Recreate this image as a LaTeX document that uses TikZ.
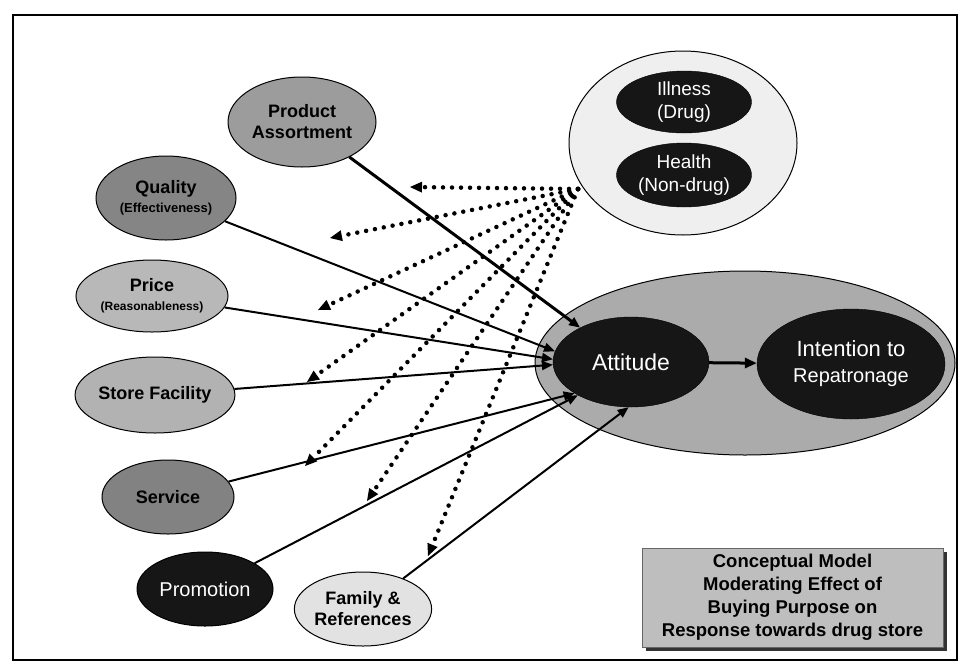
\documentclass[tikz,border=0pt]{standalone}
\usepackage{fontspec}
\setmainfont{Liberation Sans}
\usetikzlibrary{shapes.geometric,arrows.meta}
\definecolor{gA}{HTML}{9C9C9C}
\definecolor{gB}{HTML}{858585}
\definecolor{gC}{HTML}{B8B8B8}
\definecolor{gD}{HTML}{B2B2B2}
\definecolor{gE}{HTML}{828282}
\definecolor{gF}{HTML}{161616}
\definecolor{gG}{HTML}{E2E2E2}
\definecolor{gH}{HTML}{EFEFEF}
\definecolor{gI}{HTML}{ABABAB}
\definecolor{gJ}{HTML}{BEBEBE}
\tikzset{
  oval/.style={ellipse, draw=black, line width=1pt, inner sep=0pt, align=center, font=\bfseries\fontsize{18}{21}\selectfont},
  darkoval/.style={ellipse, draw=black, fill=gF, inner sep=0pt, align=center, text=white},
  solidarrow/.style={line width=2pt, -{Triangle[length=11pt,width=9pt]}},
  dotarrow/.style={line width=4.5pt, line cap=round, dash pattern=on 0pt off 9pt, -{Triangle[length=12pt,width=11pt,line width=0pt]}}
}
\begin{document}
\begin{tikzpicture}[x=1pt,y=-1pt]
\useasboundingbox (0,0) rectangle (960,664);
\fill[white] (0,0) rectangle (960,664);
\draw[line width=2.5pt] (13,15) rectangle (957,660);

% big containers
\node[ellipse, draw=black, line width=1pt, fill=gI, minimum width=420pt, minimum height=184pt, inner sep=0pt] (ctx) at (745,363) {};
\node[ellipse, draw=black, line width=1pt, fill=gH, minimum width=228pt, minimum height=184pt, inner sep=0pt] (purp) at (683,143) {};

% purpose nodes
\node[darkoval, minimum width=135pt, minimum height=62pt, font=\fontsize{19}{23}\selectfont] (ill) at (684,102) {Illness\\(Drug)};
\node[darkoval, minimum width=135pt, minimum height=64pt, font=\fontsize{19}{23}\selectfont] (hea) at (684,175) {Health\\(Non-drug)};

% outcome nodes
\node[darkoval, minimum width=156pt, minimum height=90pt, font=\fontsize{23}{27}\selectfont] (att) at (631,362) {Attitude};
\node[darkoval, minimum width=188pt, minimum height=110pt, font=\fontsize{22}{26}\selectfont] (int) at (851,364) {Intention to\\{\fontsize{20}{24}\selectfont Repatronage}};

% antecedents
\node[oval, fill=gA, minimum width=148pt, minimum height=90pt] (prod) at (302,122) {Product\\Assortment};
\node[oval, fill=gB, minimum width=140pt, minimum height=84pt, font=\bfseries\fontsize{18}{19}\selectfont] (qual) at (166,198) {Quality\\{\fontsize{13}{15}\selectfont(Effectiveness)}};
\node[oval, fill=gC, minimum width=152pt, minimum height=72pt, font=\bfseries\fontsize{18}{19}\selectfont] (pric) at (152,296) {Price\\{\fontsize{12}{14}\selectfont(Reasonableness)}};
\node[oval, fill=gD, minimum width=142pt, minimum height=76pt] (stor) at (155,395) {Store Facility};
\node[oval, fill=gE, minimum width=132pt, minimum height=74pt] (serv) at (168,497) {Service};
\node[oval, fill=gF, text=white, font=\fontsize{20}{24}\selectfont, minimum width=136pt, minimum height=74pt] (prom) at (205,589) {Promotion};
\node[oval, fill=gG, minimum width=126pt, minimum height=74pt] (fam) at (363,609) {Family \&\\References};

% solid arrows into attitude
\draw[solidarrow, line width=3pt] (prod) -- (att.146);
\draw[solidarrow] (qual) -- (att.172);
\draw[solidarrow] (pric) -- (att.178);
\draw[solidarrow] (stor) -- (att.182);
\draw[solidarrow] (serv) -- (att.209);
\draw[solidarrow] (prom) -- (att.212);
\draw[solidarrow] (fam) -- (att.267);
\draw[line width=3pt, -{Triangle[length=12pt,width=10pt]}] (att) -- (int);

% moderating dotted arrows
\coordinate (src) at (578,189);
\coordinate (d1) at (410,187);
\coordinate (d2) at (330,238);
\coordinate (d3) at (318,310);
\coordinate (d4) at (307,382);
\coordinate (d5) at (305,466);
\coordinate (d6) at (367,501);
\coordinate (d7) at (428,556);
\foreach \t in {d1,d2,d3,d4,d5,d6,d7}{
  \draw[dotarrow] (src) -- (\t);
}

% caption
\fill[black!80] (646,552) rectangle (947,651);
\node[fill=gJ, draw=black!60, line width=0.6pt, minimum width=301pt, minimum height=99pt, inner sep=0pt, align=center, font=\bfseries\fontsize{18.5}{23}\selectfont] (cap) at (792.5,597.5) {Conceptual Model\\Moderating Effect of\\Buying Purpose on\\Response towards drug store};
\end{tikzpicture}
\end{document}
